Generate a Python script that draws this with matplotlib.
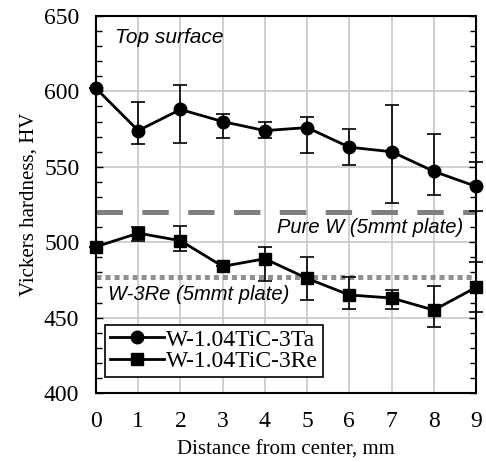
import numpy as np
import matplotlib
matplotlib.use('Agg')
from matplotlib import pyplot as plt
from matplotlib.ticker import MultipleLocator
from matplotlib.lines import Line2D

plt.rcParams['lines.scale_dashes'] = False

dist = [0, 1, 2, 3, 4, 5, 6, 7, 8, 9]

ta_hv = [602, 574, 588, 580, 574, 576, 563, 560, 547, 537]
ta_hi = [602, 593, 604, 585, 580, 583, 575, 591, 572, 553]
ta_lo = [602, 565, 566, 569, 569, 559, 551, 526, 531, 521]

re_hv = [497, 506, 501, 484, 489, 476, 465, 463, 455, 470]
re_hi = [497, 510, 511, 484, 497, 490, 477, 468, 471, 487]
re_lo = [497, 501, 494, 484, 474, 462, 456, 456, 444, 454]

pure_w = 520
w3re = 477

fig = plt.figure(figsize=(4.86, 4.62), dpi=100)
ax = fig.add_axes([96/486, 1-393/462, 380/486, 377/462])

# reference lines
ax.axhline(pure_w, color='#808080', lw=3.6, dashes=(19, 14), zorder=2)
ax.axhline(w3re, color='#909090', lw=3.6, dashes=(3.6, 2.9), zorder=2)

ta_err = [np.array(ta_hv) - np.array(ta_lo), np.array(ta_hi) - np.array(ta_hv)]
re_err = [np.array(re_hv) - np.array(re_lo), np.array(re_hi) - np.array(re_hv)]

ax.errorbar(dist, ta_hv, yerr=ta_err, color='black', lw=2, marker='o', ms=9,
            capsize=5, elinewidth=1.2, capthick=1.2, zorder=4, clip_on=False)
ax.errorbar(dist, re_hv, yerr=re_err, color='black', lw=2, marker='s', ms=9,
            capsize=5, elinewidth=1.2, capthick=1.2, zorder=4, clip_on=False)

ax.set_xlim(0, 9)
ax.set_ylim(400, 650)
ax.set_xticks(dist)
ax.yaxis.set_major_locator(MultipleLocator(50))
ax.yaxis.set_minor_locator(MultipleLocator(10))
ax.grid(True, which='major', color='#c8c8c8', lw=1.2, zorder=0)
ax.set_axisbelow(True)

for s in ax.spines.values():
    s.set_linewidth(1.5)

ax.tick_params(axis='both', which='both', direction='in', labelsize=17,
               right=True, width=1)
ax.tick_params(axis='x', which='major', length=0, pad=13)
ax.tick_params(axis='y', which='major', length=5, pad=12)
ax.tick_params(axis='y', which='minor', length=4)
for lab in ax.get_xticklabels() + ax.get_yticklabels():
    lab.set_family('Liberation Serif')

ax.set_xlabel('Distance from center, mm', family='Liberation Serif',
              fontsize=15, labelpad=6)
ax.set_ylabel('Vickers hardness, HV', family='Liberation Serif',
              fontsize=15, labelpad=4)

ax.text(0.45, 635.5, 'Top surface', family='Liberation Sans', style='italic',
        fontsize=15, va='center', ha='left')
ax.text(8.69, 509.5, 'Pure W (5mmt plate)', family='Liberation Sans',
        style='italic', fontsize=14.5, va='center', ha='right')
ax.text(0.28, 465, 'W-3Re (5mmt plate)', family='Liberation Sans',
        style='italic', fontsize=14.5, va='center', ha='left')

handles = [Line2D([], [], color='black', lw=2, marker='o', ms=9),
           Line2D([], [], color='black', lw=2, marker='s', ms=9)]
leg = ax.legend(handles, ['W-1.04TiC-3Ta', 'W-1.04TiC-3Re'],
                loc='lower left', bbox_to_anchor=(9/380, 16/377),
                prop={'family': 'Liberation Serif', 'size': 17},
                fancybox=False, edgecolor='black', framealpha=1,
                handlelength=2.3, handletextpad=0.1, borderpad=0.2,
                labelspacing=0.0, borderaxespad=0)
leg.get_frame().set_linewidth(1.2)

fig.savefig('out.png', dpi=100)
